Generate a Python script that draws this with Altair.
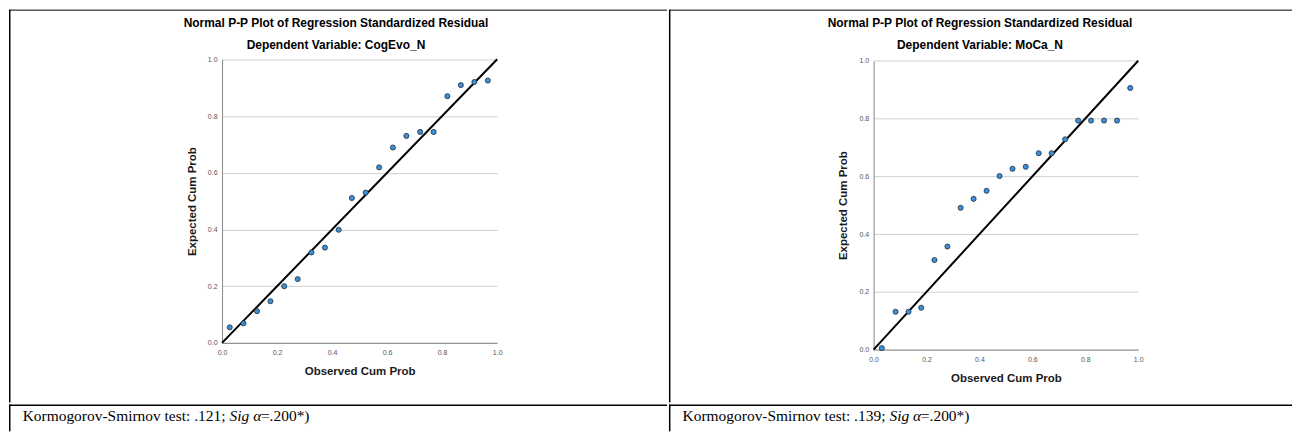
import altair as alt
import pandas as pd

FONT = "Liberation Sans"
SERIF = "Liberation Serif"

CHART_TITLE = "Normal P-P Plot of Regression Standardized Residual"
SUBTITLE_1 = "Dependent Variable: CogEvo_N"
SUBTITLE_2 = "Dependent Variable: MoCa_N"
X_TITLE = "Observed Cum Prob"
Y_TITLE = "Expected Cum Prob"
AXIS_TICKS = [0.0, 0.2, 0.4, 0.6, 0.8, 1.0]
REF_LINE = [0.0, 1.0]

obs_cogevo = [0.028, 0.078, 0.127, 0.176, 0.226, 0.275, 0.325, 0.374, 0.424, 0.472,
              0.522, 0.571, 0.621, 0.670, 0.720, 0.769, 0.819, 0.868, 0.917, 0.966]
exp_cogevo = [0.055, 0.069, 0.112, 0.147, 0.200, 0.225, 0.319, 0.336, 0.399, 0.511,
              0.530, 0.619, 0.689, 0.730, 0.744, 0.744, 0.870, 0.909, 0.920, 0.925]
obs_moca = [0.031, 0.083, 0.132, 0.180, 0.230, 0.279, 0.329, 0.378, 0.427, 0.476,
            0.525, 0.575, 0.624, 0.673, 0.724, 0.773, 0.822, 0.871, 0.920, 0.970]
exp_moca = [0.005, 0.131, 0.131, 0.145, 0.310, 0.357, 0.491, 0.522, 0.550, 0.601,
            0.626, 0.633, 0.680, 0.680, 0.728, 0.793, 0.793, 0.793, 0.793, 0.906]

KS_1 = ["Kormogorov-Smirnov test: .121; ", "Sig \u03b1", "=.200*)"]
KS_2 = ["Kormogorov-Smirnov test: .139; ", "Sig \u03b1", "=.200*)"]

LEFT_W, RIGHT_W = 660, 625
TOP_H, BOT_H = 394, 27


def borders(w, h, top_w=1.0, left_w=1.5):
    top = alt.Chart().mark_rule(color="black", strokeWidth=top_w).encode(
        x=alt.value(0), x2=alt.value(w), y=alt.value(top_w / 2))
    left = alt.Chart().mark_rule(color="black", strokeWidth=left_w).encode(
        x=alt.value(left_w / 2), y=alt.value(0), y2=alt.value(h))
    return [top, left]


def label(text, x, y, size, weight="normal", font=FONT, align="center",
          style="normal", color="black", baseline="middle"):
    return alt.Chart().mark_text(
        text=text, font=font, fontSize=size, fontWeight=weight, fontStyle=style,
        align=align, baseline=baseline, color=color,
    ).encode(x=alt.value(x), y=alt.value(y))


def panel(obs, exp, subtitle, xr, yr, w, h, title_x):
    xs = alt.Scale(domain=[0, 1], range=xr, nice=False, zero=False)
    ys = alt.Scale(domain=[0, 1], range=yr, nice=False, zero=False)
    common = dict(values=AXIS_TICKS, format=".1f", ticks=False,
                  labelFont=FONT, labelFontSize=7, labelColor="#555555",
                  labelOverlap=False, labelFlush=False,
                  domainColor="#8a8a8a", domainWidth=1,
                  titleFont=FONT, titleFontSize=11.5, titleFontWeight="bold",
                  titleColor="#1a1a1a")
    xaxis = alt.Axis(title=X_TITLE, grid=False, offset=yr[0] - h,
                     labelPadding=6, titlePadding=10, **common)
    yaxis = alt.Axis(title=Y_TITLE, grid=True, gridColor="#d0d0d0", gridWidth=1,
                     offset=-xr[0], labelPadding=5, titlePadding=10, **common)
    df = pd.DataFrame({"obs": obs, "exp": exp})
    ref = pd.DataFrame({"obs": REF_LINE, "exp": REF_LINE})
    pts = alt.Chart(df).mark_circle(
        size=26, fill="#3d8fd6", stroke="#1e2f40", strokeWidth=0.8, opacity=1
    ).encode(x=alt.X("obs:Q", scale=xs, axis=xaxis),
             y=alt.Y("exp:Q", scale=ys, axis=yaxis))
    line = alt.Chart(ref).mark_line(color="black", strokeWidth=2).encode(
        x=alt.X("obs:Q", scale=xs, axis=xaxis), y=alt.Y("exp:Q", scale=ys, axis=yaxis))
    layers = borders(w, h) + [
        line, pts,
        label(CHART_TITLE, title_x, 21 - 8, 12, weight="bold"),
        label(subtitle, title_x, 43 - 8, 12, weight="bold"),
    ]
    return alt.layer(*layers).properties(width=w, height=h)


def ks_cell(parts, w, h):
    x0 = 13.7
    size = 15.5
    w1 = 13.389 * size
    w2 = 2.03 * size
    layers = borders(w, h, top_w=1.5) + [
        label(parts[0], x0, 17, size, font=SERIF, align="left", baseline="alphabetic"),
        label(parts[1], x0 + w1, 17, size, font=SERIF, align="left", style="italic",
              baseline="alphabetic"),
        label(parts[2], x0 + w1 + w2, 17, size, font=SERIF, align="left",
              baseline="alphabetic"),
    ]
    return alt.layer(*layers).properties(width=w, height=h)


cell_a = panel(obs_cogevo, exp_cogevo, SUBTITLE_1,
               [213.7, 489.7], [334.3, 49.8], LEFT_W, TOP_H, 328)
cell_b = panel(obs_moca, exp_moca, SUBTITLE_2,
               [205.3, 470.7], [341.0, 51.3], RIGHT_W, TOP_H, 312)
cell_c = ks_cell(KS_1, LEFT_W, BOT_H)
cell_d = ks_cell(KS_2, RIGHT_W, BOT_H)

top = alt.hconcat(cell_a, cell_b, spacing=0)
bottom = alt.hconcat(cell_c, cell_d, spacing=0)
chart = (
    alt.vconcat(top, bottom, spacing=0)
    .properties(padding=0, background="white")
    .configure(font=FONT)
    .configure_view(strokeWidth=0, stroke="transparent")
)

chart.save("out.html", embed_options={"renderer": "svg", "actions": False})
